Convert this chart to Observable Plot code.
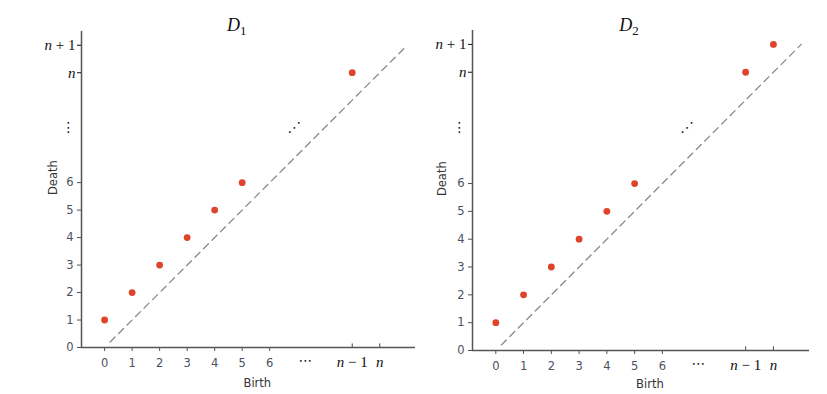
<!DOCTYPE html>
<html>
<head>
<meta charset="utf-8">
<script src="https://cdn.jsdelivr.net/npm/d3@7"></script>
<script src="https://cdn.jsdelivr.net/npm/@observablehq/plot@0.6"></script>
<style>
  html, body { margin: 0; padding: 0; background: #fff; }
  #wrap { display: flex; flex-direction: row; width: 827px; height: 394px; overflow: hidden; }
  svg { overflow: visible; }
</style>
</head>
<body>
<div id="wrap"></div>
<script>
// ---- data ----
const titles = ["D_1", "D_2"];
const d1Birth = [0, 1, 2, 3, 4, 5, 9];
const d1Death = [1, 2, 3, 4, 5, 6, 10];
const d2Birth = [0, 1, 2, 3, 4, 5, 9, 10];
const d2Death = [1, 2, 3, 4, 5, 6, 10, 11];
const numTicks = [0, 1, 2, 3, 4, 5, 6];
const xSymTicks = [9, 10];
const xSymLabels = ["n − 1", "n"];
const ySymTicks = [10, 11];
const ySymLabels = ["n", "n + 1"];
const xEllipsis = [7.3];
const yEllipsis = [8];
const midEllipsis = [[6.9, 8.0]];
const diagonal = [0.2, 11];
const xDomain = [-0.84, 11.3];
const yDomain = [0, 11.5];

const numColor = "#4a5160";
const axisColor = "#555";

function panel(cfg) {
  const pts = cfg.birth.map((b, i) => ({b, d: cfg.death[i]}));
  const diag = diagonal.map(v => ({v}));
  return Plot.plot({
    width: cfg.width, height: 394,
    marginLeft: cfg.ml, marginRight: cfg.mr, marginTop: cfg.mt, marginBottom: cfg.mb,
    style: {background: "white", overflow: "visible"},
    x: {domain: xDomain, axis: null, label: null},
    y: {domain: yDomain, axis: null, label: null},
    marks: [
      Plot.ruleX([xDomain[0]], {stroke: axisColor, strokeWidth: 1.5}),
      Plot.ruleY([yDomain[0]], {stroke: axisColor, strokeWidth: 1.5}),
      Plot.line(diag, {x: "v", y: "v", stroke: "#8a8a8a", strokeWidth: 1.3, strokeDasharray: "7,5"}),
      Plot.dot(pts, {x: "b", y: "d", r: 3.4, fill: "#e0432b", stroke: "none"}),
      Plot.axisX(numTicks, {anchor: "bottom", label: null, tickSize: 4, tickPadding: 7, fontSize: 11.5, fontFamily: "DejaVu Sans", color: numColor}),
      Plot.axisY(numTicks, {anchor: "left", label: null, tickSize: 4, tickPadding: 4, fontSize: 11.5, fontFamily: "DejaVu Sans", color: numColor}),
      Plot.axisX(xSymTicks, {anchor: "bottom", label: null, tickSize: 0, tickPadding: 9, fontSize: 15, fontFamily: "Liberation Serif", color: "#111", tickFormat: (d, i) => xSymLabels[i]}),
      Plot.ruleX(xSymTicks, {y1: 0, y2: 0.13, stroke: "#444", strokeWidth: 1}),
      Plot.axisY(ySymTicks, {anchor: "left", label: null, tickSize: 4, tickPadding: 2, fontSize: 15, fontFamily: "Liberation Serif", color: "#111", tickFormat: (d, i) => ySymLabels[i]}),
      Plot.text(xEllipsis, {x: d => d, frameAnchor: "bottom", dy: 17, text: () => "⋯", fontSize: 14, fontFamily: "DejaVu Sans", fill: "#111"}),
      Plot.text(yEllipsis, {y: d => d, frameAnchor: "left", textAnchor: "middle", dx: -13, text: () => "⋮", fontSize: 14, fontFamily: "DejaVu Sans", fill: "#111"}),
      Plot.text(midEllipsis, {x: d => d[0], y: d => d[1], text: () => "⋰", fontSize: 14, fontFamily: "DejaVu Sans", fill: "#111"}),
      Plot.text(["Birth"], {x: () => 5.55, frameAnchor: "bottom", dy: cfg.birthDy, text: d => d, fontSize: 11.5, fontFamily: "DejaVu Sans", fill: "#333"}),
      Plot.text(["Death"], {y: () => 5.55, frameAnchor: "left", dx: cfg.deathDx, rotate: -90, text: d => d, fontSize: 11.5, fontFamily: "DejaVu Sans", fill: "#333"}),
      Plot.text([cfg.title], {x: () => 4.8, frameAnchor: "top", dy: cfg.titleDy, text: d => d, fontSize: 18, fontFamily: "Liberation Serif", fill: "#111"})
    ]
  });
}

function mathify(svg) {
  d3.select(svg).selectAll("text").each(function() {
    const el = d3.select(this);
    const t = this.textContent;
    const m = /^D_(\d)$/.exec(t);
    if (m) {
      el.text(null);
      el.append("tspan").attr("font-style", "italic").text("D");
      el.append("tspan").attr("font-size", 13).attr("dy", "0.3em").text(m[1]);
      return;
    }
    if (xSymLabels.includes(t) || ySymLabels.includes(t)) {
      el.text(null);
      el.append("tspan").attr("font-style", "italic").text("n");
      const rest = t.slice(1);
      if (rest) el.append("tspan").text(rest);
    }
  });
  return svg;
}

const wrap = document.getElementById("wrap");
wrap.appendChild(mathify(panel({title: titles[0], width: 420, ml: 81, mr: 5, mt: 31, mb: 47, birth: d1Birth, death: d1Death, birthDy: 39, deathDx: -28, titleDy: -13})));
wrap.appendChild(mathify(panel({title: titles[1], width: 407, ml: 52, mr: 18, mt: 30, mb: 44, birth: d2Birth, death: d2Death, birthDy: 37, deathDx: -30, titleDy: -12})));
</script>
</body>
</html>
